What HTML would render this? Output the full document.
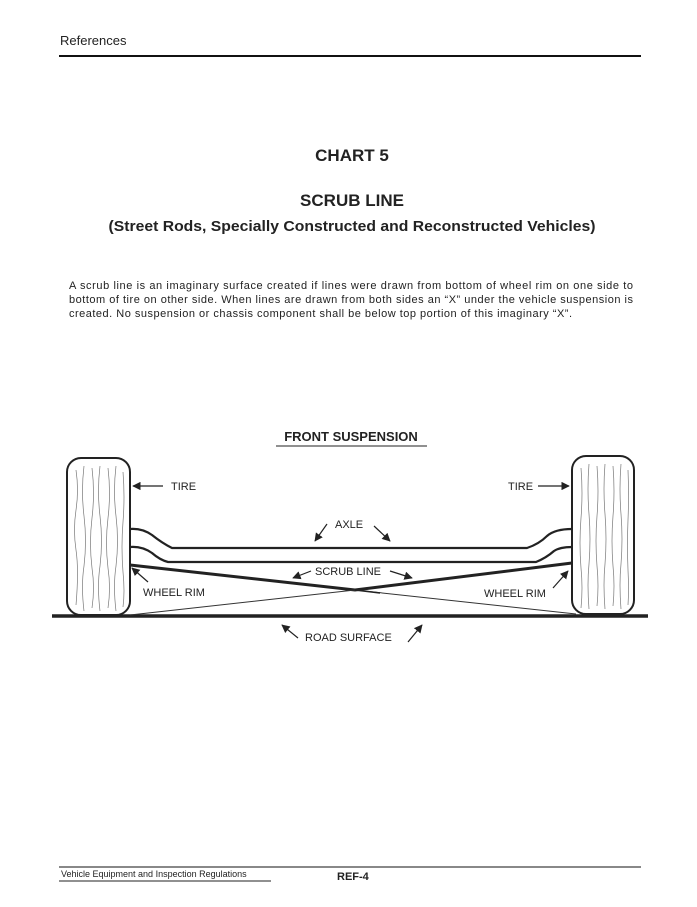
<!DOCTYPE html>
<html><head><meta charset="utf-8"><style>
html,body{margin:0;padding:0;background:#fff;}
svg{display:block;font-family:"Liberation Sans",sans-serif;}
</style></head><body>
<svg width="697" height="907" viewBox="0 0 697 907" xmlns="http://www.w3.org/2000/svg">
<text x="60" y="45" font-size="13" fill="#222">References</text>
<line x1="59" y1="56" x2="641" y2="56" stroke="#111" stroke-width="2"/>
<text x="352" y="161" font-size="17" font-weight="bold" text-anchor="middle" fill="#222">CHART 5</text>
<text x="352" y="206" font-size="17" font-weight="bold" text-anchor="middle" fill="#222">SCRUB LINE</text>
<text x="352" y="231" font-size="14.5" font-weight="bold" text-anchor="middle" fill="#222" textLength="487" lengthAdjust="spacingAndGlyphs">(Street Rods, Specially Constructed and Reconstructed Vehicles)</text>
<g font-size="11" fill="#222">
<text x="69" y="289" textLength="564" lengthAdjust="spacing">A scrub line is an imaginary surface created if lines were drawn from bottom of wheel rim on one side to</text>
<text x="69" y="303" textLength="564" lengthAdjust="spacing">bottom of tire on other side. When lines are drawn from both sides an “X” under the vehicle suspension is</text>
<text x="69" y="317" textLength="503" lengthAdjust="spacing">created. No suspension or chassis component shall be below top portion of this imaginary “X”.</text>
</g>
<text x="351" y="441" font-size="13" font-weight="bold" text-anchor="middle" fill="#222">FRONT SUSPENSION</text>
<line x1="276" y1="446" x2="427" y2="446" stroke="#222" stroke-width="1"/>
<!-- tires -->
<rect x="67" y="458" width="63" height="157" rx="14" fill="#fff" stroke="#222" stroke-width="2"/>
<rect x="572" y="456" width="62" height="158" rx="14" fill="#fff" stroke="#222" stroke-width="2"/>
<g stroke="#777" stroke-width="0.7" fill="none">
<path d="M76 470 q3 20 0 40 q-3 20 0 40 q3 20 0 55"/><path d="M84 466 q-3 25 0 50 q3 25 0 50 q-3 20 0 45"/>
<path d="M92 468 q3 25 0 50 q-3 25 0 50 q3 20 0 40"/><path d="M100 466 q-3 25 0 50 q3 25 0 50 q-3 20 0 45"/>
<path d="M108 468 q3 25 0 50 q-3 25 0 50 q3 20 0 40"/><path d="M116 466 q-3 25 0 50 q3 25 0 50 q-3 20 0 45"/>
<path d="M123 472 q2 25 0 50 q-2 25 0 50 q2 20 0 35"/>
<path d="M581 468 q2 25 0 50 q-2 25 0 50 q2 20 0 40"/><path d="M589 464 q-2 25 0 50 q2 25 0 50 q-2 20 0 45"/>
<path d="M597 466 q2 25 0 50 q-2 25 0 50 q2 20 0 40"/><path d="M605 464 q-2 25 0 50 q2 25 0 50 q-2 20 0 45"/>
<path d="M613 466 q2 25 0 50 q-2 25 0 50 q2 20 0 40"/><path d="M621 464 q-2 25 0 50 q2 25 0 50 q-2 20 0 45"/>
<path d="M628 470 q1 25 0 50 q-1 25 0 50 q1 20 0 35"/>
</g>
<!-- axle -->
<g stroke="#222" stroke-width="2.2" fill="none">
<path d="M130 529 q12 -1 22 6 q10 8 20 13 L527 548 q12 -4 20 -12 q8 -7 25 -7"/>
<path d="M130 547 q12 -1 22 6 q8 7 16 9 L536 562 q10 -4 18 -11 q6 -4 18 -4"/>
</g>
<!-- road -->
<line x1="52" y1="616" x2="648" y2="616" stroke="#222" stroke-width="3.5"/>
<!-- scrub lines -->
<path d="M130 565 L355 590 L572 563" stroke="#222" stroke-width="3" fill="none"/>
<path d="M130 615 L355 590 L576 614" stroke="#333" stroke-width="1" fill="none"/>
<path d="M355 590 L380 593" stroke="#222" stroke-width="1.5"/>
<!-- labels -->
<g font-size="11" fill="#222">
<text x="171" y="490">TIRE</text>
<text x="508" y="490">TIRE</text>
<text x="335" y="528">AXLE</text>
<text x="315" y="575">SCRUB LINE</text>
<text x="143" y="596">WHEEL RIM</text>
<text x="484" y="597">WHEEL RIM</text>
<text x="305" y="641">ROAD SURFACE</text>
</g>
<defs><marker id="a" viewBox="0 0 10 10" refX="9" refY="5" markerWidth="7" markerHeight="7" orient="auto"><path d="M0 0 L10 5 L0 10 z" fill="#222"/></marker></defs>
<g stroke="#222" stroke-width="1.2" marker-end="url(#a)">
<line x1="163" y1="486" x2="133" y2="486"/>
<line x1="538" y1="486" x2="569" y2="486"/>
<line x1="327" y1="524" x2="315" y2="541"/>
<line x1="374" y1="526" x2="390" y2="541"/>
<line x1="311" y1="571" x2="293" y2="578"/>
<line x1="390" y1="571" x2="412" y2="578"/>
<line x1="148" y1="582" x2="132" y2="568"/>
<line x1="553" y1="588" x2="568" y2="571"/>
<line x1="298" y1="638" x2="282" y2="625"/>
<line x1="408" y1="642" x2="422" y2="625"/>
</g>
<line x1="59" y1="867" x2="641" y2="867" stroke="#111" stroke-width="1"/>
<text x="61" y="877" font-size="9" fill="#222">Vehicle Equipment and Inspection Regulations</text>
<line x1="59" y1="881" x2="271" y2="881" stroke="#222" stroke-width="1"/>
<text x="337" y="880" font-size="11" font-weight="bold" fill="#222">REF-4</text>
</svg>
</body></html>
